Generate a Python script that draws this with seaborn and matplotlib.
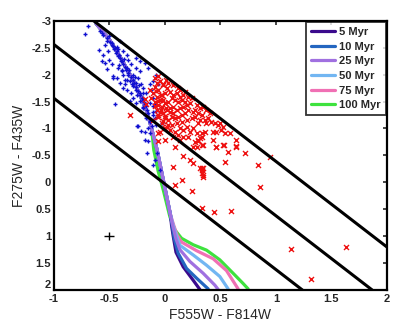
import numpy as np
import pandas as pd
import seaborn as sns
import matplotlib
matplotlib.use('Agg')
import matplotlib.pyplot as plt

# Colour-colour diagram: F275W-F435W vs F555W-F814W, isochrones + stars

# blue sources (young main sequence)
blue_x = [-0.721, -0.586, -0.571, -0.556, -0.592, -0.541, -0.526, -0.496, -0.481, -0.466,
          -0.451, -0.436, -0.421, -0.412, -0.406, -0.391, -0.571, -0.541, -0.502, -0.526,
          -0.466, -0.436, -0.472, -0.406, -0.376, -0.346, -0.361, -0.316, -0.286, -0.256,
          -0.226, -0.241, -0.256, -0.211, -0.196, -0.166, -0.136, -0.121, -0.106, -0.151,
          -0.181, -0.256, -0.226, -0.301, -0.346, -0.331, -0.376, -0.301, -0.286, -0.226,
          -0.256, -0.316, -0.451, -0.196, -0.181, -0.166, -0.136, -0.106, -0.241, -0.211,
          -0.151, -0.136, -0.076, -0.091, -0.346, -0.331, -0.376, -0.406, -0.556, -0.511,
          -0.481, -0.421, -0.391, -0.361, -0.286, -0.256, -0.226, -0.196, -0.136, -0.106,
          -0.076, -0.061, -0.106, -0.076, -0.18, -0.15, -0.105, -0.045, -0.03, -0.195,
          -0.255, -0.18, -0.165, -0.09, -0.075, -0.69,
          -0.52, -0.48, -0.46, -0.44, -0.42, -0.40, -0.38, -0.36, -0.35, -0.33,
          -0.31, -0.29, -0.28, -0.26, -0.24, -0.22, -0.21, -0.19, -0.17, -0.16,
          -0.15, -0.14, -0.13, -0.12, -0.32, -0.27, -0.23, -0.20, -0.18, -0.37,
          -0.43, -0.50, -0.25, -0.30, -0.34, -0.39, -0.41, -0.20, -0.11, -0.09]
blue_y = [-2.765, -2.808, -2.777, -2.746, -2.467, -2.56, -2.62, -2.61, -2.56, -2.53,
          -2.50, -2.44, -2.47, -2.37, -2.31, -2.25, -2.25, -2.22, -2.28, -2.10,
          -1.97, -1.94, -1.93, -1.85, -1.75, -1.72, -1.82, -1.88, -2.00, -2.13,
          -2.06, -1.94, -1.85, -1.82, -1.75, -1.66, -1.82, -1.72, -1.57, -2.13,
          -2.22, -2.31, -2.25, -2.19, -2.13, -2.03, -2.00, -1.66, -1.57, -1.51,
          -1.47, -1.51, -1.46, -1.38, -1.26, -1.20, -1.13, -1.26, -1.04, -0.95,
          -1.01, -0.92, -1.07, -1.20, -2.37, -2.28, -2.44, -2.62, -2.37, -2.44,
          -2.19, -2.13, -2.06, -1.91, -1.79, -1.72, -1.66, -1.57, -1.47, -1.41,
          -1.32, -1.82, -1.88, -2.00, -0.94, -0.76, -0.32, -0.23, -1.10, -1.53,
          -1.04, -0.79, -0.54, -0.42, -0.54, -2.90,
          -2.68, -2.58, -2.48, -2.40, -2.35, -2.26, -2.20, -2.15, -2.08, -2.00,
          -1.96, -1.90, -1.84, -1.78, -1.70, -1.62, -1.56, -1.50, -1.42, -1.35,
          -1.28, -1.20, -1.12, -1.05, -2.08, -1.95, -1.80, -1.66, -1.45, -2.30,
          -2.52, -2.72, -1.62, -1.82, -1.90, -2.08, -2.18, -1.40, -1.30, -1.45]

# red sources (reddened clusters)
red_x = [-0.091, -0.061, -0.046, -0.016, 0.014, -0.136, -0.076, -0.031, -0.121, -0.061,
         -0.001, -0.091, -0.031, 0.014, -0.061, -0.001, -0.016, 0.029, -0.061, -0.001,
         -0.316, -0.166, -0.181,
         -0.09, -0.06, -0.015, 0.015, -0.03, 0.0, 0.045, 0.075, 0.105, 0.135,
         0.165, 0.15, 0.12, 0.09, 0.06, 0.03, 0.0, -0.03, -0.06, -0.075,
         -0.045, -0.015, 0.015, 0.045, 0.075, 0.105, 0.135, 0.165, 0.195, 0.225,
         0.21, 0.18, 0.15, 0.12, 0.09, 0.06, 0.03, 0.0, -0.03, 0.015,
         0.06, 0.105, 0.15, 0.195, 0.24, 0.27, 0.30, 0.255, 0.315, 0.285,
         0.24, 0.21, 0.18, 0.27, 0.33, 0.36, 0.39, 0.42, 0.45, 0.48,
         0.405, 0.375, 0.345, 0.30, 0.255, 0.225, 0.195, 0.165, 0.135, 0.09,
         0.045, 0.075, 0.12, 0.165, 0.21, 0.285, 0.315, 0.27, 0.135, -0.045,
         -0.075, -0.105, -0.09, -0.06, -0.105, -0.075, 0.03, 0.075, 0.12, 0.135,
         0.18, 0.075, 0.045, -0.015, 0.30, 0.33, 0.36, 0.465, 0.51, 0.54,
         0.945, 0.84, 0.855, 0.72, 0.645, 0.645, 0.54, 0.57, 0.525, 0.465,
         0.435, 0.435, 0.585, 0.525, 0.495, 0.375, 0.315, 0.33, 0.30, 0.285,
         0.33, 0.255, 0.165, 0.225, 0.255, 0.075, 0.15, 0.09, 0.24, 0.33,
         0.345, 0.33, 0.315, 0.345, 0.09, 0.0, -0.06, -0.045,
         1.635, 1.14, 1.314, 0.60, 0.44, 0.33, 0.33, 0.345, 0.46, 0.53, 0.645, 0.345]
red_y = [-1.94, -1.97, -1.88, -1.82, -1.91, -1.72, -1.69, -1.63, -1.57, -1.51,
         -1.47, -1.41, -1.35, -1.38, -1.26, -1.23, -1.13, -1.07, -0.92, -1.01,
         -1.26, -1.45, -1.54,
         -1.779, -1.717, -1.81, -1.748, -1.624, -1.655, -1.686, -1.624, -1.655, -1.593,
         -1.624, -1.531, -1.50, -1.531, -1.562, -1.50, -1.469, -1.407, -1.438, -1.345,
         -1.314, -1.283, -1.345, -1.376, -1.407, -1.345, -1.376, -1.407, -1.438, -1.469,
         -1.345, -1.283, -1.252, -1.221, -1.19, -1.221, -1.159, -1.19, -1.097, -1.035,
         -1.066, -1.097, -1.128, -1.159, -1.19, -1.221, -1.283, -1.314, -1.376, -1.438,
         -1.562, -1.593, -1.50, -1.345, -1.252, -1.159, -1.19, -1.128, -1.097, -1.066,
         -1.283, -1.345, -1.407, -1.097, -1.004, -0.942, -1.035, -0.973, -1.004, -0.942,
         -0.973, -0.849, -0.88, -0.849, -0.849, -0.911, -0.818, -0.756, -0.787, -1.531,
         -1.593, -1.655, -1.50, -1.221, -1.159, -1.841, -1.841, -1.81, -1.748, -1.717,
         -1.686, -1.283, -1.314, -1.531, -0.787, -0.694, -0.942, -0.942, -0.973, -0.911,
         -0.477, -0.32, 0.08, -0.54, -0.66, -0.79, -0.38, -0.57, -0.69, -0.66,
         -0.79, -0.94, -0.91, -1.035, -1.10, -1.10, -1.16, -0.85, -0.76, -0.66,
         -0.91, -0.66, -0.48, -0.415, -0.35, -0.29, -0.04, 0.05, 0.17, -0.23,
         -0.105, -0.17, -0.26, -0.26, -0.66, -0.79, -0.76, -0.94,
         1.196, 1.23, 1.80, 0.53, 0.55, 0.48, -0.26, -0.14, -0.66, -0.69, -0.68, -0.69]

# isochrones: common upper branch, then one lower branch per age
iso_top_x = [-0.62, -0.5, -0.4, -0.3, -0.22, -0.16, -0.12]
iso_top_y = [-2.95, -2.65, -2.32, -1.95, -1.6, -1.3, -1.0]
iso_ages = ['5 Myr', '10 Myr', '25 Myr', '50 Myr', '75 Myr', '100 Myr']
iso_low_x = {
    '5 Myr':   [-0.07, -0.02, 0.02, 0.05, 0.06, 0.075, 0.10, 0.165, 0.255, 0.315],
    '10 Myr':  [-0.07, -0.02, 0.02, 0.05, 0.065, 0.085, 0.12, 0.195, 0.285, 0.39],
    '25 Myr':  [-0.07, -0.02, 0.02, 0.05, 0.07, 0.10, 0.135, 0.225, 0.345, 0.45, 0.48],
    '50 Myr':  [-0.07, -0.02, 0.02, 0.05, 0.075, 0.105, 0.135, 0.255, 0.375, 0.495, 0.57],
    '75 Myr':  [-0.07, -0.02, 0.02, 0.05, 0.08, 0.11, 0.15, 0.285, 0.435, 0.555, 0.66],
    '100 Myr': [-0.10, -0.06, -0.015, 0.015, 0.045, 0.09, 0.15, 0.255, 0.375, 0.495, 0.615, 0.705, 0.75],
}
iso_low_y = {
    '5 Myr':   [-0.6, -0.1, 0.3, 0.6, 0.8, 1.0, 1.3, 1.57, 1.82, 1.99],
    '10 Myr':  [-0.6, -0.1, 0.3, 0.6, 0.8, 1.05, 1.32, 1.60, 1.78, 1.98],
    '25 Myr':  [-0.6, -0.1, 0.3, 0.6, 0.8, 1.05, 1.25, 1.47, 1.69, 1.91, 1.99],
    '50 Myr':  [-0.6, -0.1, 0.3, 0.6, 0.8, 1.0, 1.17, 1.35, 1.54, 1.75, 1.98],
    '75 Myr':  [-0.6, -0.1, 0.3, 0.6, 0.8, 0.98, 1.11, 1.27, 1.42, 1.64, 1.98],
    '100 Myr': [-0.6, -0.2, 0.14, 0.39, 0.64, 0.885, 1.04, 1.16, 1.26, 1.44, 1.69, 1.88, 1.98],
}
iso_colors = dict(zip(iso_ages, ['#3a0a8c', '#2466c0', '#a070e0', '#72b6f2', '#f070b4', '#3ee23e']))
# drawing order: lavender / light blue end up on top along the shared branch
draw_order = ['100 Myr', '75 Myr', '5 Myr', '10 Myr', '50 Myr', '25 Myr']

# dividing lines (reddening direction)
line_slope = 1.59
line_intercepts = [-1.98, -0.97, 0.03]

# typical error bar
err_x, err_y = [-0.5], [1.0]
err_dx, err_dy = 0.045, 0.075

sns.set_style('white')
plt.rcParams['font.family'] = ['Liberation Sans', 'DejaVu Sans']

fig = plt.figure(figsize=(4.15, 3.31), dpi=100)
ax = fig.add_axes([0.130, 0.124, 0.802, 0.813])

handles = {}
for age in draw_order:
    iso = pd.DataFrame({'x': iso_top_x + iso_low_x[age], 'y': iso_top_y + iso_low_y[age]})
    sns.lineplot(data=iso, x='x', y='y', sort=False, estimator=None, color=iso_colors[age],
                 linewidth=2.3, label=age, ax=ax, zorder=2)
    handles[age] = ax.get_lines()[-1]

sns.scatterplot(x=blue_x, y=blue_y, marker='+', color='#1010d0', s=10, linewidth=1.0,
                ax=ax, zorder=3, legend=False)
sns.scatterplot(x=red_x, y=red_y, marker='x', color='#ee1111', s=13, linewidth=1.0,
                ax=ax, zorder=3, legend=False)

for a in line_intercepts:
    ax.axline((0, a), slope=line_slope, color='black', linewidth=2.2, zorder=4)

ax.errorbar(err_x, err_y, xerr=err_dx, yerr=err_dy, fmt='none', ecolor='black',
            elinewidth=1.0, capsize=0, zorder=4)

ax.set_xlim(-1, 2)
ax.set_ylim(2, -3)
ax.set_xticks(np.arange(-1, 2.01, 0.5))
ax.set_xticklabels(['-1', '-0.5', '0', '0.5', '1', '1.5', '2'])
ax.set_yticks(np.arange(-3, 2.01, 0.5))
ax.set_yticklabels(['-3', '-2.5', '-2', '-1.5', '-1', '-0.5', '0', '0.5', '1', '1.5', '2'])
ax.tick_params(direction='in', length=3, width=1.2, top=True, right=True,
               labelsize=8, pad=2)
ax.tick_params(axis='x', pad=3)
for lbl in ax.get_xticklabels() + ax.get_yticklabels():
    lbl.set_fontweight('bold')
ax.get_yticklabels()[-1].set_va('bottom')
for sp in ax.spines.values():
    sp.set_linewidth(1.6)
    sp.set_color('black')

ax.set_xlabel('F555W - F814W', fontsize=10, labelpad=3)
ax.set_ylabel('F275W - F435W', fontsize=10, labelpad=4)

leg = ax.legend([handles[a] for a in iso_ages], iso_ages, loc='upper right',
                prop={'weight': 'bold', 'size': 8},
                frameon=True, fancybox=False, handlelength=2.1, labelspacing=0.42,
                borderaxespad=0.1, handletextpad=0.4, borderpad=0.45)
leg.get_frame().set_edgecolor('black')
leg.get_frame().set_linewidth(1.3)
leg.set_zorder(5)

fig.savefig('out.png', dpi=100)
